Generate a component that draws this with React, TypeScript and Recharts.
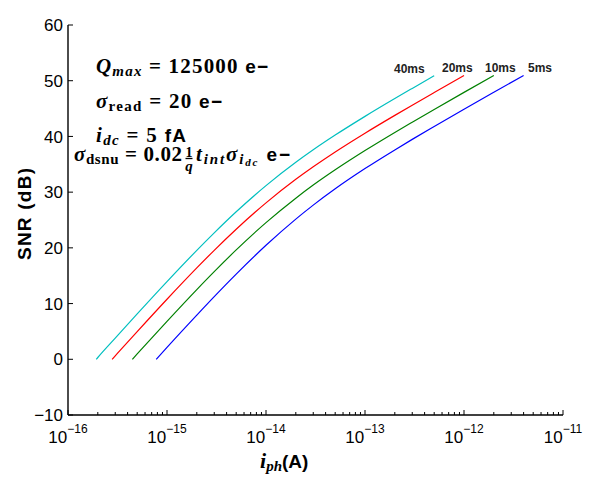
import React from 'react';
import { LineChart, Line, XAxis, YAxis } from 'recharts';

// ---- data ----
const seriesNames = ['40ms', '20ms', '10ms', '5ms'];
const seriesColors = ['#00BFBF', '#FF0000', '#008000', '#0000FF'];

const x40 = [1.93e-16, 2e-16, 3e-16, 5e-16, 1e-15, 2e-15, 3e-15, 5e-15, 1e-14, 2e-14, 3e-14, 5e-14, 1e-13, 2e-13, 3e-13, 5e-13];
const y40 = [0, 0.32, 3.79, 8.14, 13.94, 19.55, 22.69, 26.47, 31.17, 35.36, 37.6, 40.24, 43.6, 46.8, 48.62, 50.89];

const x20 = [2.79e-16, 3e-16, 5e-16, 1e-15, 2e-15, 3e-15, 5e-15, 1e-14, 2e-14, 3e-14, 5e-14, 1e-13, 2e-13, 3e-13, 5e-13, 1e-12];
const y20 = [0, 0.62, 4.97, 10.78, 16.4, 19.56, 23.35, 28.08, 32.3, 34.55, 37.21, 40.58, 43.78, 45.61, 47.88, 50.93];

const x10 = [4.47e-16, 5e-16, 1e-15, 2e-15, 3e-15, 5e-15, 1e-14, 2e-14, 3e-14, 5e-14, 1e-13, 2e-13, 3e-13, 5e-13, 1e-12, 2e-12];
const y10 = [0, 0.96, 6.81, 12.51, 15.73, 19.63, 24.53, 28.92, 31.27, 34.01, 37.47, 40.72, 42.56, 44.85, 47.91, 50.94];

const x5 = [7.78e-16, 1e-15, 2e-15, 3e-15, 5e-15, 1e-14, 2e-14, 3e-14, 5e-14, 1e-13, 2e-13, 3e-13, 5e-13, 1e-12, 2e-12, 4e-12];
const y5 = [0, 2.14, 7.93, 11.25, 15.29, 20.46, 25.16, 27.67, 30.6, 34.23, 37.58, 39.47, 41.78, 44.87, 47.92, 50.95];

const xMajorTicks = [1e-16, 1e-15, 1e-14, 1e-13, 1e-12, 1e-11];
const xMajorExponents = ['\u221216', '\u221215', '\u221214', '\u221213', '\u221212', '\u221211'];
const minorMultipliers = [2, 3, 4, 5, 6, 7, 8, 9];
const yTicks = [-10, 0, 10, 20, 30, 40, 50, 60];
const yTickLabels = ['\u221210', '0', '10', '20', '30', '40', '50', '60'];

const xMinorTicks: number[] = [];
xMajorTicks.slice(0, 5).forEach((d) => minorMultipliers.forEach((m) => xMinorTicks.push(Number((m * d).toPrecision(3)))));
const xAllTicks = [...xMajorTicks, ...xMinorTicks];

const toPoints = (xs: number[], ys: number[]) => xs.map((x, i) => ({ x, y: ys[i] }));
const seriesData = [toPoints(x40, y40), toPoints(x20, y20), toPoints(x10, y10), toPoints(x5, y5)];

const SANS = '"Liberation Sans", Arial, Helvetica, sans-serif';
const SERIF = '"Liberation Serif", "Times New Roman", serif';

const MAJ = 5;
const MIN = 3;

const BottomTick = (props: any) => {
  const { x, y, payload } = props;
  const idx = xMajorTicks.indexOf(payload.value);
  const len = idx >= 0 ? MAJ : MIN;
  return (
    <g>
      <line x1={x} y1={y} x2={x} y2={y - len} stroke="#000" strokeWidth={1} />
      {idx >= 0 && (
        <text x={x} y={y + 28} textAnchor="middle" fontFamily={SANS} fontSize={17} fill="#000">
          10
          <tspan dy={-10} fontSize={12}>{xMajorExponents[idx]}</tspan>
        </text>
      )}
    </g>
  );
};

const TopTick = (props: any) => {
  const { x, y, payload } = props;
  const idx = xMajorTicks.indexOf(payload.value);
  const len = idx >= 0 ? MAJ : MIN;
  return <line x1={x} y1={y} x2={x} y2={y + len} stroke="#000" strokeWidth={1} />;
};

const LeftTick = (props: any) => {
  const { x, y, payload } = props;
  const idx = yTicks.indexOf(payload.value);
  return (
    <g>
      <line x1={x} y1={y} x2={x + MAJ} y2={y} stroke="#000" strokeWidth={1} />
      <text x={x - 5} y={y} dy="0.36em" textAnchor="end" fontFamily={SANS} fontSize={17} fill="#000">
        {yTickLabels[idx]}
      </text>
    </g>
  );
};

const RightTick = (props: any) => {
  const { x, y } = props;
  return <line x1={x} y1={y} x2={x - MAJ} y2={y} stroke="#000" strokeWidth={1} />;
};

export default function App() {
  return (
    <div style={{ position: 'relative', width: 599, height: 481 }}>
      <LineChart width={599} height={481} margin={{ top: 17, right: 44, bottom: 24, left: 0 }}>
        <XAxis
          xAxisId="bottom"
          orientation="bottom"
          dataKey="x"
          type="number"
          scale="log"
          domain={[1e-16, 1e-11]}
          allowDataOverflow
          ticks={xAllTicks}
          interval={0}
          height={50}
          tickSize={0}
          tickMargin={0}
          tickLine={false}
          tick={<BottomTick />}
          axisLine={{ stroke: '#000', strokeWidth: 1.4 }}
        />
        <XAxis
          xAxisId="top"
          orientation="top"
          dataKey="x"
          type="number"
          scale="log"
          domain={[1e-16, 1e-11]}
          allowDataOverflow
          ticks={xAllTicks}
          interval={0}
          height={0}
          tickSize={0}
          tickMargin={0}
          tickLine={false}
          tick={<TopTick />}
          axisLine={{ stroke: '#000', strokeWidth: 1.4 }}
        />
        <YAxis
          yAxisId="left"
          orientation="left"
          type="number"
          domain={[-10, 60]}
          allowDataOverflow
          ticks={yTicks}
          interval={0}
          width={60}
          tickSize={0}
          tickMargin={0}
          tickLine={false}
          tick={<LeftTick />}
          axisLine={{ stroke: '#000', strokeWidth: 1.4 }}
        />
        <YAxis
          yAxisId="right"
          orientation="right"
          type="number"
          domain={[-10, 60]}
          allowDataOverflow
          ticks={yTicks}
          interval={0}
          width={0}
          tickSize={0}
          tickMargin={0}
          tickLine={false}
          tick={<RightTick />}
          axisLine={{ stroke: '#000', strokeWidth: 1.4 }}
        />
        {seriesData.map((d, i) => (
          <Line
            key={seriesNames[i]}
            name={seriesNames[i]}
            data={d}
            dataKey="y"
            xAxisId="bottom"
            yAxisId="left"
            type="monotone"
            stroke={seriesColors[i]}
            strokeWidth={1.2}
            dot={false}
            activeDot={false}
            isAnimationActive={false}
          />
        ))}
      </LineChart>
      <svg width={599} height={481} style={{ position: 'absolute', left: 0, top: 0, pointerEvents: 'none' }}>
        {/* axis titles */}
        <text
          transform="translate(16,206) rotate(-90)"
          textAnchor="middle"
          dominantBaseline="central"
          fontFamily={SANS}
          fontWeight="bold"
          fontSize={19}
          textLength={92}
          fill="#000"
        >
          SNR (dB)
        </text>
        <text x={252} y={460} fill="#000" fontWeight="bold">
          <tspan fontFamily={SERIF} fontStyle="italic" fontSize={22}>i</tspan>
          <tspan fontFamily={SERIF} fontStyle="italic" fontSize={15} dy={3}>ph</tspan>
          <tspan fontFamily={SANS} fontSize={19} dy={-3}>(A)</tspan>
        </text>

        {/* parameter annotations */}
        <text x={88} y={65.3} fill="#000" fontWeight="bold" textLength={172}>
          <tspan fontFamily={SERIF} fontStyle="italic" fontSize={21}>Q</tspan>
          <tspan fontFamily={SERIF} fontStyle="italic" fontSize={15} dy={3}>max</tspan>
          <tspan fontFamily={SERIF} fontSize={21} dy={-3}> = 125000 </tspan>
          <tspan fontFamily={SANS} fontSize={19}>e{'\u2212'}</tspan>
        </text>
        <text x={88} y={100.3} fill="#000" fontWeight="bold" textLength={126}>
          <tspan fontFamily={SERIF} fontStyle="italic" fontSize={21}>{'\u03c3'}</tspan>
          <tspan fontFamily={SERIF} fontSize={15} dy={3}>read</tspan>
          <tspan fontFamily={SERIF} fontSize={21} dy={-3}> = 20 </tspan>
          <tspan fontFamily={SANS} fontSize={19}>e{'\u2212'}</tspan>
        </text>
        <text x={88} y={133.7} fill="#000" fontWeight="bold" textLength={90}>
          <tspan fontFamily={SERIF} fontStyle="italic" fontSize={21}>i</tspan>
          <tspan fontFamily={SERIF} fontStyle="italic" fontSize={15} dy={3}>dc</tspan>
          <tspan fontFamily={SERIF} fontSize={21} dy={-3}> = 5 </tspan>
          <tspan fontFamily={SANS} fontSize={19}>fA</tspan>
        </text>
        <text x={66} y={153} fill="#000" fontWeight="bold" textLength={108}>
          <tspan fontFamily={SERIF} fontStyle="italic" fontSize={21}>{'\u03c3'}</tspan>
          <tspan fontFamily={SERIF} fontSize={15} dy={3}>dsnu</tspan>
          <tspan fontFamily={SERIF} fontSize={21} dy={-3}> = 0.02</tspan>
        </text>
        <text x={181} y={148.5} textAnchor="middle" fill="#000" fontWeight="bold" fontFamily={SERIF} fontSize={14}>1</text>
        <line x1={177.5} y1={150.5} x2={184.5} y2={150.5} stroke="#000" strokeWidth={1.3} />
        <text x={181} y={162.5} textAnchor="middle" fill="#000" fontWeight="bold" fontFamily={SERIF} fontStyle="italic" fontSize={15}>q</text>
        <text x={188} y={153} fill="#000" fontWeight="bold" textLength={94}>
          <tspan fontFamily={SERIF} fontStyle="italic" fontSize={21}>t</tspan>
          <tspan fontFamily={SERIF} fontStyle="italic" fontSize={15} dy={3}>int</tspan>
          <tspan fontFamily={SERIF} fontStyle="italic" fontSize={21} dy={-3}>{'\u03c3'}</tspan>
          <tspan fontFamily={SERIF} fontStyle="italic" fontSize={15} dy={3}>i</tspan>
          <tspan fontFamily={SERIF} fontStyle="italic" fontSize={11} dy={2}>dc</tspan>
          <tspan fontFamily={SANS} fontSize={19} dy={-5}> e{'\u2212'}</tspan>
        </text>

        {/* series labels */}
        <text x={386} y={64.7} fontFamily={SANS} fontWeight="bold" fontSize={12} fill="#222">{seriesNames[0]}</text>
        <text x={434} y={63.7} fontFamily={SANS} fontWeight="bold" fontSize={12} fill="#222">{seriesNames[1]}</text>
        <text x={477} y={64} fontFamily={SANS} fontWeight="bold" fontSize={12} fill="#222">{seriesNames[2]}</text>
        <text x={520} y={64} fontFamily={SANS} fontWeight="bold" fontSize={12} fill="#222">{seriesNames[3]}</text>
      </svg>
    </div>
  );
}
